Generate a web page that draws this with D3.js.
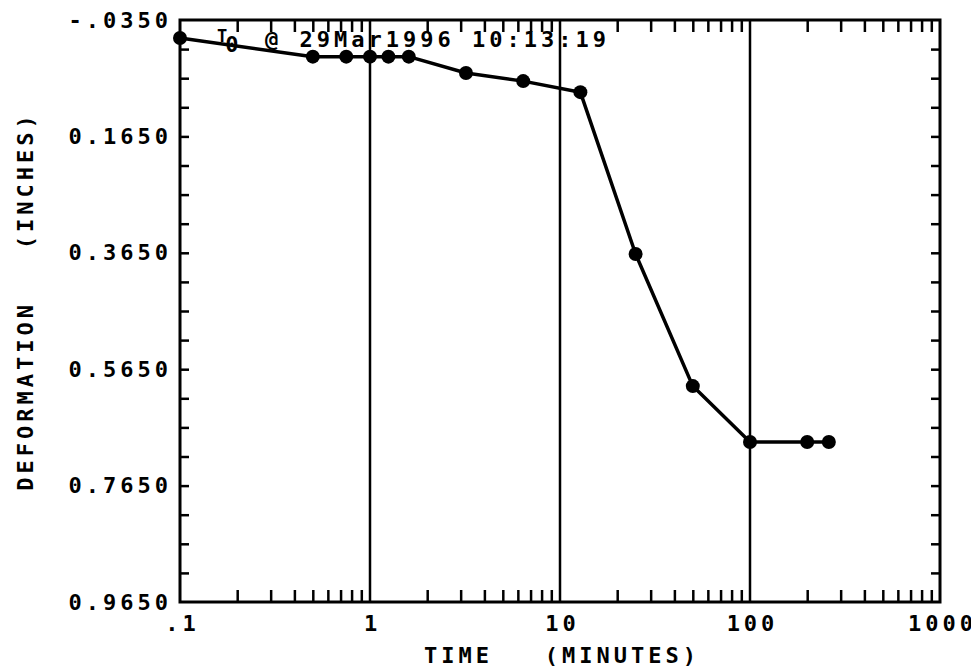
<!DOCTYPE html>
<html>
<head>
<meta charset="utf-8">
<script src="https://cdn.jsdelivr.net/npm/d3@7"></script>
<style>
    body { margin: 0; background: #fff; }
    text { font-family: "DejaVu Sans Mono", monospace; font-weight: bold; font-size: 22px; letter-spacing: 4px; fill: #000; }
</style>
</head>
<body>
<script>
// time since T0 (minutes) and dial reading (inches)
const times  = [0.1, 0.5, 0.75, 1, 1.25, 1.6, 3.2, 6.4, 12.8, 25, 50, 100, 200, 260];
const deform = [-0.004, 0.028, 0.028, 0.028, 0.028, 0.028, 0.056, 0.070, 0.089, 0.367, 0.594, 0.690, 0.690, 0.690];

const xTicks = [0.1, 1, 10, 100, 1000];
const xTickLabels = [".1", "1", "10", "100", "1000"];
const yTicks = [-0.035, 0.165, 0.365, 0.565, 0.765, 0.965];
const yTickLabels = ["-.0350", "0.1650", "0.3650", "0.5650", "0.7650", "0.9650"];
const gridTimes = [1, 10, 100];

const width = 971;
const height = 668;
const margin = {top: 20, right: 31, bottom: 66, left: 180};

var svg = d3.select("body").append("svg")
    .attr("width", width)
    .attr("height", height);

var xscale = d3.scaleLog()
    .domain([0.1, 1000])
    .range([margin.left, width - margin.right]);

var yscale = d3.scaleLinear()
    .domain([-0.035, 0.965])
    .range([margin.top, height - margin.bottom]);

const x0 = margin.left, x1 = width - margin.right;
const y0 = margin.top, y1 = height - margin.bottom;

// minor ticks: 2..9 of every decade, every 0.05 on y
const xMinor = xscale.ticks().filter(d => !xTicks.some(t => Math.abs(t - d) < 1e-9));
const yMinor = d3.range(0, 20).map(i => -0.035 + i * 0.05).slice(1);

// vertical grid lines at decades
svg.append("g").selectAll("line")
    .data(gridTimes)
    .enter()
    .append("line")
    .attr("x1", d => xscale(d)).attr("x2", d => xscale(d))
    .attr("y1", y0).attr("y2", y1)
    .attr("stroke", "#000")
    .attr("stroke-width", 2.5);

// inward ticks on all four sides
svg.append("g")
    .attr("transform", `translate(0, ${y1})`)
    .call(d3.axisBottom(xscale).tickValues(xMinor).tickSize(-12).tickFormat(""))
    .call(g => g.select(".domain").remove());
svg.append("g")
    .attr("transform", `translate(0, ${y0})`)
    .call(d3.axisTop(xscale).tickValues(xMinor).tickSize(-12).tickFormat(""))
    .call(g => g.select(".domain").remove());
svg.append("g")
    .attr("transform", `translate(${x0}, 0)`)
    .call(d3.axisLeft(yscale).tickValues(yMinor).tickSize(-9).tickFormat(""))
    .call(g => g.select(".domain").remove());
svg.append("g")
    .attr("transform", `translate(${x1}, 0)`)
    .call(d3.axisRight(yscale).tickValues(yMinor).tickSize(-9).tickFormat(""))
    .call(g => g.select(".domain").remove());
svg.selectAll(".tick line").attr("stroke", "#000").attr("stroke-width", 2.5);

// tick labels
svg.append("g")
    .attr("transform", `translate(0, ${y1})`)
    .call(d3.axisBottom(xscale).tickValues(xTicks).tickSize(0).tickPadding(13)
        .tickFormat((d, i) => xTickLabels[i]))
    .call(g => g.select(".domain").remove())
    .call(g => g.selectAll("text").attr("font-family", null).attr("font-size", null).attr("dx", "2"));
svg.append("g")
    .attr("transform", `translate(${x0}, 0)`)
    .call(d3.axisLeft(yscale).tickValues(yTicks).tickSize(0).tickPadding(8)
        .tickFormat((d, i) => yTickLabels[i]))
    .call(g => g.select(".domain").remove())
    .call(g => g.selectAll("text").attr("font-family", null).attr("font-size", null));

// frame
svg.append("rect")
    .attr("x", x0).attr("y", y0)
    .attr("width", x1 - x0).attr("height", y1 - y0)
    .attr("fill", "none")
    .attr("stroke", "#000")
    .attr("stroke-width", 3);

// axis titles
svg.append("text")
    .attr("x", (x0 + x1) / 2 + 2)
    .attr("y", 663)
    .attr("text-anchor", "middle")
    .style("white-space", "pre")
    .text("TIME   (MINUTES)");
svg.append("text")
    .attr("transform", `translate(33, ${301}) rotate(-90)`)
    .attr("text-anchor", "middle")
    .style("white-space", "pre")
    .text("DEFORMATION   (INCHES)");

// T0 stamp
var stamp = svg.append("text")
    .attr("x", 217)
    .attr("y", 42);
stamp.append("tspan").attr("font-size", 17).text("T");
stamp.append("tspan").attr("dy", 10).attr("dx", -6).text("0");
stamp.append("tspan").attr("x", 265).attr("dy", -5).style("white-space", "pre").text("@ 29Mar1996 10:13:19");

// settlement curve
const pts = times.map((t, i) => [t, deform[i]]);
svg.append("path")
    .datum(pts)
    .attr("fill", "none")
    .attr("stroke", "#000")
    .attr("stroke-width", 3.5)
    .attr("stroke-linejoin", "round")
    .attr("d", d3.line().x(d => xscale(d[0])).y(d => yscale(d[1])));

svg.selectAll("circle")
    .data(pts)
    .enter()
    .append("circle")
    .attr("cx", d => xscale(d[0]))
    .attr("cy", d => yscale(d[1]))
    .attr("r", 7)
    .attr("fill", "#000");
</script>
</body>
</html>
